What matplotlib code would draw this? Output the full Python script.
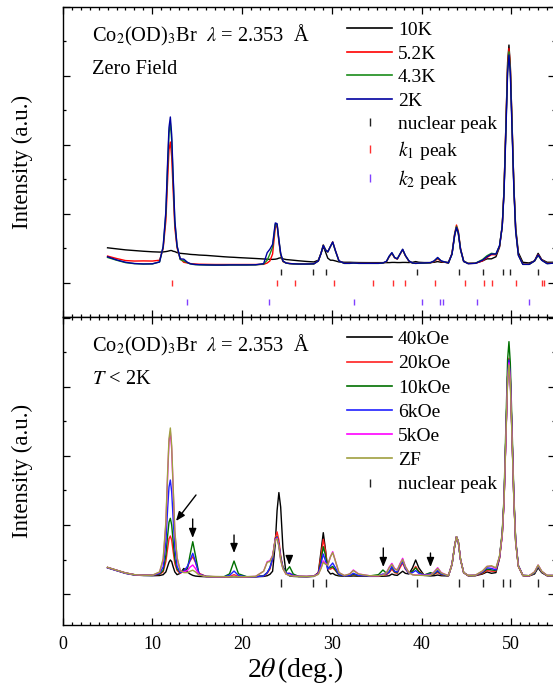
import matplotlib
matplotlib.use('Agg')
import matplotlib.pyplot as plt
from matplotlib.lines import Line2D
from matplotlib.ticker import MultipleLocator

plt.rcParams['font.family'] = ['Liberation Serif', 'DejaVu Serif']
plt.rcParams['mathtext.fontset'] = 'stix'

# ---------------- data (2theta grid in degrees, intensities in a.u.) ----------------
two_theta = [
    5.0, 6.0, 7.0, 8.0, 9.0, 10.0, 10.8, 11.2, 11.5, 11.7,
    11.85, 12.0, 12.15, 12.3, 12.5, 12.75, 13.1, 13.5, 13.9, 14.2,
    14.5, 14.8, 15.2, 16.0, 17.0, 18.0, 18.6, 19.1, 19.6, 20.5,
    21.5, 22.4, 22.8, 23.1, 23.4, 23.7, 23.9, 24.1, 24.3, 24.55,
    24.9, 25.3, 25.7, 26.3, 27.2, 28.0, 28.5, 28.8, 29.05, 29.3,
    29.55, 29.85, 30.1, 30.4, 30.8, 31.4, 32.0, 32.4, 33.0, 34.2,
    35.2, 35.7, 36.1, 36.4, 36.7, 37.0, 37.3, 37.6, 37.9, 38.2,
    38.6, 39.0, 39.35, 39.7, 40.3, 41.0, 41.4, 41.8, 42.2, 43.0,
    43.4, 43.7, 43.9, 44.1, 44.35, 44.7, 45.2, 46.0, 46.8, 47.3,
    47.8, 48.3, 48.7, 49.0, 49.2, 49.4, 49.6, 49.75, 49.9, 50.1,
    50.3, 50.5, 50.8, 51.3, 52.0, 52.6, 53.0, 53.4, 54.0, 55.0,
]

# upper panel: zero field, temperatures
zf_10K = [
    510, 495, 480, 470, 460, 452, 448, 450, 455, 460,
    465, 470, 470, 460, 455, 440, 430, 425, 420, 415,
    412, 410, 405, 400, 390, 380, 375, 372, 368, 362,
    355, 348, 345, 343, 342, 345, 350, 360, 365, 350,
    340, 335, 330, 322, 312, 305, 330, 430, 530, 450,
    360, 330, 330, 320, 305, 300, 300, 298, 296, 295,
    295, 295, 295, 295, 298, 298, 296, 296, 298, 298,
    296, 300, 310, 300, 296, 296, 300, 310, 300, 300,
    420, 690, 800, 720, 480, 310, 285, 285, 320, 350,
    350, 380, 520, 820, 1350, 2250, 3200, 3449, 3150, 2300,
    1400, 800, 440, 300, 290, 320, 430, 340, 300, 300,
]
zf_5p2K = [
    390, 355, 325, 318, 320, 318, 330, 500, 900, 1500,
    1930, 2043, 1830, 1380, 800, 510, 350, 300, 290, 282,
    278, 275, 272, 270, 268, 268, 268, 268, 268, 268,
    268, 270, 290, 320, 420, 800, 840, 600, 410, 310,
    290, 282, 278, 276, 276, 278, 320, 430, 550, 480,
    450, 530, 595, 470, 320, 285, 285, 290, 285, 285,
    285, 288, 310, 380, 430, 365, 345, 415, 480, 395,
    316, 288, 284, 286, 288, 292, 312, 350, 312, 288,
    430, 720, 840, 755, 500, 318, 282, 286, 320, 370,
    410, 410, 530, 830, 1350, 2250, 3150, 3400, 3150, 2280,
    1390, 770, 410, 272, 272, 320, 410, 335, 285, 292,
]
zf_4p3K = [
    370, 330, 295, 280, 274, 276, 305, 520, 1000, 1700,
    2170, 2320, 2070, 1550, 880, 530, 340, 320, 295, 278,
    270, 266, 263, 260, 258, 258, 260, 260, 260, 260,
    262, 275, 330, 420, 520, 850, 850, 620, 420, 315,
    288, 280, 276, 274, 274, 276, 320, 430, 550, 480,
    450, 530, 590, 465, 318, 284, 284, 288, 284, 284,
    284, 288, 312, 385, 435, 368, 350, 418, 485, 398,
    318, 288, 284, 286, 288, 292, 318, 362, 318, 288,
    420, 710, 820, 740, 495, 318, 282, 286, 340, 395,
    430, 420, 540, 830, 1330, 2200, 3100, 3352, 3100, 2250,
    1380, 760, 405, 270, 270, 318, 400, 330, 282, 290,
]
zf_2K = [
    380, 335, 300, 282, 276, 278, 305, 530, 1035, 1770,
    2253, 2406, 2148, 1602, 909, 540, 350, 345, 300, 280,
    272, 268, 265, 262, 260, 260, 262, 262, 262, 262,
    264, 280, 440, 490, 560, 870, 860, 630, 430, 320,
    290, 282, 278, 275, 275, 278, 320, 430, 545, 480,
    450, 530, 595, 470, 320, 285, 285, 290, 285, 285,
    285, 290, 315, 390, 440, 370, 350, 420, 490, 400,
    320, 290, 285, 288, 290, 295, 320, 370, 320, 290,
    420, 700, 805, 730, 490, 315, 280, 285, 330, 380,
    420, 420, 540, 820, 1300, 2150, 3050, 3304, 3050, 2200,
    1350, 750, 400, 270, 270, 320, 406, 330, 280, 290,
]

# lower panel: T < 2K, applied fields
h_40kOe = [
    380, 340, 300, 275, 268, 265, 268, 280, 320, 400,
    460, 493, 470, 400, 320, 280, 300, 370, 320, 290,
    270, 260, 255, 250, 248, 248, 248, 250, 248, 248,
    250, 255, 265, 285, 330, 730, 1210, 1470, 1260, 670,
    300, 262, 255, 252, 252, 255, 310, 620, 889, 640,
    340, 290, 300, 275, 262, 258, 258, 262, 258, 256,
    256, 258, 260, 265, 290, 275, 270, 300, 330, 300,
    290, 380, 493, 380, 270, 262, 265, 275, 265, 262,
    430, 700, 830, 760, 500, 310, 265, 265, 290, 320,
    300, 310, 520, 870, 1350, 2250, 3150, 3400, 3120, 2250,
    1350, 750, 400, 265, 262, 290, 380, 310, 265, 265,
]
h_20kOe = [
    385, 345, 305, 280, 272, 272, 285, 320, 470, 660,
    800, 841, 780, 630, 440, 340, 300, 330, 390, 480,
    541, 460, 300, 255, 252, 250, 255, 280, 255, 250,
    252, 262, 300, 360, 500, 820, 900, 780, 560, 380,
    290, 300, 270, 255, 252, 258, 310, 560, 793, 620,
    370, 360, 380, 340, 275, 262, 265, 280, 265, 260,
    262, 275, 280, 310, 360, 310, 300, 380, 450, 360,
    300, 330, 400, 330, 275, 300, 285, 310, 280, 265,
    430, 700, 830, 760, 500, 310, 265, 268, 300, 340,
    330, 330, 520, 850, 1330, 2250, 3150, 3416, 3150, 2280,
    1370, 760, 405, 268, 262, 300, 400, 320, 265, 265,
]
h_10kOe = [
    385, 345, 305, 280, 272, 272, 290, 340, 560, 850,
    1040, 1097, 1000, 780, 510, 360, 310, 340, 360, 570,
    758, 560, 285, 255, 252, 252, 292, 478, 292, 252,
    252, 265, 310, 380, 520, 800, 830, 720, 530, 390,
    330, 396, 290, 256, 253, 258, 300, 480, 686, 560,
    380, 380, 400, 350, 275, 262, 265, 285, 265, 262,
    280, 348, 300, 320, 390, 320, 310, 420, 493, 380,
    300, 330, 380, 320, 275, 310, 290, 330, 285, 265,
    430, 700, 830, 760, 500, 310, 268, 270, 310, 360,
    350, 340, 540, 900, 1400, 2400, 3400, 3657, 3350, 2400,
    1420, 780, 415, 270, 265, 300, 400, 320, 268, 268,
]
h_6kOe = [
    380, 340, 300, 278, 270, 270, 300, 390, 750, 1240,
    1550, 1652, 1480, 1120, 670, 400, 310, 330, 400, 490,
    590, 470, 290, 253, 250, 250, 270, 333, 268, 250,
    250, 262, 310, 380, 510, 790, 820, 720, 520, 380,
    300, 300, 270, 254, 252, 257, 300, 440, 580, 480,
    360, 410, 449, 380, 285, 262, 268, 300, 268, 262,
    265, 290, 290, 320, 400, 330, 320, 410, 470, 370,
    300, 310, 340, 300, 275, 290, 300, 340, 290, 265,
    430, 700, 830, 760, 500, 310, 268, 270, 320, 380,
    370, 350, 540, 860, 1350, 2250, 3150, 3391, 3130, 2280,
    1370, 770, 410, 270, 265, 310, 410, 325, 268, 268,
]
h_5kOe = [
    385, 345, 305, 280, 272, 272, 315, 490, 1000, 1720,
    2200, 2350, 2100, 1570, 900, 520, 340, 320, 340, 390,
    420, 370, 280, 253, 250, 250, 252, 256, 252, 250,
    255, 330, 470, 480, 560, 790, 810, 700, 500, 370,
    290, 270, 262, 256, 255, 258, 290, 380, 480, 440,
    420, 540, 613, 480, 310, 268, 290, 348, 290, 265,
    265, 275, 310, 390, 444, 370, 350, 440, 517, 400,
    310, 280, 275, 275, 270, 275, 320, 381, 310, 265,
    430, 700, 830, 760, 500, 310, 270, 272, 330, 400,
    400, 370, 540, 850, 1330, 2200, 3100, 3350, 3100, 2250,
    1360, 760, 405, 270, 265, 320, 420, 330, 270, 270,
]
h_ZF = [
    385, 345, 305, 280, 272, 272, 320, 510, 1040, 1770,
    2250, 2406, 2150, 1600, 910, 530, 340, 310, 310, 330,
    345, 320, 275, 253, 250, 250, 252, 255, 252, 250,
    255, 330, 460, 470, 550, 780, 800, 690, 490, 365,
    288, 268, 260, 255, 254, 257, 285, 370, 460, 430,
    420, 540, 600, 480, 310, 268, 290, 340, 288, 265,
    265, 272, 305, 380, 430, 365, 345, 430, 500, 395,
    310, 278, 272, 272, 268, 272, 315, 370, 305, 265,
    430, 700, 830, 760, 500, 310, 270, 272, 335, 400,
    410, 380, 550, 870, 1350, 2250, 3100, 3319, 3050, 2220,
    1350, 750, 400, 270, 265, 320, 420, 330, 270, 270,
]

# reflection positions (2theta, deg)
nuclear_peaks = [24.34, 27.94, 29.32, 39.46, 44.15, 46.89, 49.05, 49.87, 53.0]
k1_peaks = [12.15, 23.92, 25.86, 30.28, 34.63, 36.86, 38.16, 41.47, 44.85,
            47.0, 47.83, 50.53, 53.47, 53.69]
k2_peaks = [13.89, 23.0, 32.51, 40.02, 42.06, 42.43, 46.15, 52.02]
tick_level_top = {'nuclear': 152, 'k1': 5, 'k2': -275}
tick_level_bottom = 159

# arrows in lower panel
arrow_vertical_x = [14.49, 19.1, 25.26, 35.74, 41.0]
arrow_tail_y = [1087, 855, 551, 667, 594]
arrow_head_y = [812, 594, 420, 391, 391]
arrow_diag = (14.86, 1435, 12.63, 1058)

top_labels = ['10K', '5.2K', '4.3K', '2K']
top_series = [zf_10K, zf_5p2K, zf_4p3K, zf_2K]
top_colors = ['#000000', '#ff0000', '#1a8c1a', '#0000a0']

bot_labels = ['40kOe', '20kOe', '10kOe', '6kOe', '5kOe', 'ZF']
bot_series = [h_40kOe, h_20kOe, h_10kOe, h_6kOe, h_5kOe, h_ZF]
bot_colors = ['#000000', '#ff2020', '#007000', '#2020ff', '#ff00ff', '#a0a040']

# ---------------- figure ----------------
W, H = 553, 686
fig = plt.figure(figsize=(W / 100, H / 100), dpi=100)
ax1 = fig.add_axes([62.7 / W, 1 - 317 / H, (555 - 62.7) / W, (317 - 7) / H])
ax2 = fig.add_axes([62.7 / W, 1 - 625 / H, (555 - 62.7) / W, (625 - 317) / H])

for c, s, lab in zip(top_colors, top_series, top_labels):
    ax1.plot(two_theta, s, color=c, lw=1.0, label=lab)
for c, s, lab in zip(bot_colors, bot_series, bot_labels):
    ax2.plot(two_theta, s, color=c, lw=1.0, label=lab)

mk = dict(ls='none', marker='|', ms=5, mew=1.0)
ax1.plot(nuclear_peaks, [tick_level_top['nuclear']] * len(nuclear_peaks), color='#222222', **mk)
ax1.plot(k1_peaks, [tick_level_top['k1']] * len(k1_peaks), color='#ff3030', **mk)
ax1.plot(k2_peaks, [tick_level_top['k2']] * len(k2_peaks), color='#8040ff', **mk)
ax2.plot(nuclear_peaks, [tick_level_bottom] * len(nuclear_peaks), color='#222222',
         ls='none', marker='|', ms=6, mew=1.0)

ap = dict(arrowstyle='-|>,head_length=0.55,head_width=0.22', color='black', lw=1.0,
          shrinkA=0, shrinkB=0)
for x, yt, yh in zip(arrow_vertical_x, arrow_tail_y, arrow_head_y):
    ax2.annotate('', xy=(x, yh), xytext=(x, yt), arrowprops=ap)
ax2.annotate('', xy=arrow_diag[2:], xytext=arrow_diag[:2], arrowprops=ap)

ax1.set_ylim(-493, 4000)
ax2.set_ylim(-449, 4014)
for ax in (ax1, ax2):
    ax.set_xlim(0, (555 - 62.7) / 8.97)
    ax.xaxis.set_major_locator(MultipleLocator(10))
    ax.xaxis.set_minor_locator(MultipleLocator(1))
    ax.yaxis.set_major_locator(MultipleLocator(1000))
    ax.yaxis.set_minor_locator(MultipleLocator(500))
    ax.tick_params(which='both', direction='in', top=True, right=True, width=0.9)
    ax.tick_params(which='major', length=5)
    ax.tick_params(which='minor', length=2.5)
    ax.tick_params(axis='y', labelleft=False)
    for sp in ax.spines.values():
        sp.set_linewidth(1.0)
ax1.tick_params(axis='x', labelbottom=False)
ax2.tick_params(axis='x', labelsize=13, pad=8)

# legends
h1 = [Line2D([], [], color=c, lw=1.2) for c in top_colors]
h1 += [Line2D([], [], color=c, ls='none', marker='|', ms=6, mew=1.0)
       for c in ['#222222', '#ff3030', '#8040ff']]
l1 = top_labels + ['nuclear peak', '$k_1$ peak', '$k_2$ peak']
ax1.legend(h1, l1, loc='upper left', bbox_to_anchor=(0.578, 0.953), frameon=False,
           fontsize=14, handlelength=2.3, handletextpad=0.3, labelspacing=0.30,
           borderpad=0, borderaxespad=0)

h2 = [Line2D([], [], color=c, lw=1.2) for c in bot_colors]
h2 += [Line2D([], [], color='#222222', ls='none', marker='|', ms=6, mew=1.0)]
l2 = bot_labels + ['nuclear peak']
ax2.legend(h2, l2, loc='upper left', bbox_to_anchor=(0.578, 0.956), frameon=False,
           fontsize=14, handlelength=2.3, handletextpad=0.3, labelspacing=0.34,
           borderpad=0, borderaxespad=0)

# annotations
fs = 14.7
title = 'Co$_2$(OD)$_3$Br  $\\lambda$ = 2.353  Å'
fig.text(91.7 / W, 1 - 41.7 / H, title, fontsize=fs, va='baseline')
fig.text(91.7 / W, 1 - 74 / H, 'Zero Field', fontsize=fs, va='baseline')
fig.text(91.7 / W, 1 - 351.7 / H, title, fontsize=fs, va='baseline')
fig.text(91.7 / W, 1 - 384 / H, '$T$ < 2K', fontsize=fs, va='baseline')

fig.text(22 / W, 1 - 162 / H, 'Intensity (a.u.)', fontsize=16.5, rotation=90, ha='center', va='center')
fig.text(22 / W, 1 - 471 / H, 'Intensity (a.u.)', fontsize=16.5, rotation=90, ha='center', va='center')
fig.text(295 / W, 1 - 677 / H, '2$\\theta\\,$(deg.)', fontsize=20, ha='center', va='baseline')

fig.savefig('out.png', dpi=100)
